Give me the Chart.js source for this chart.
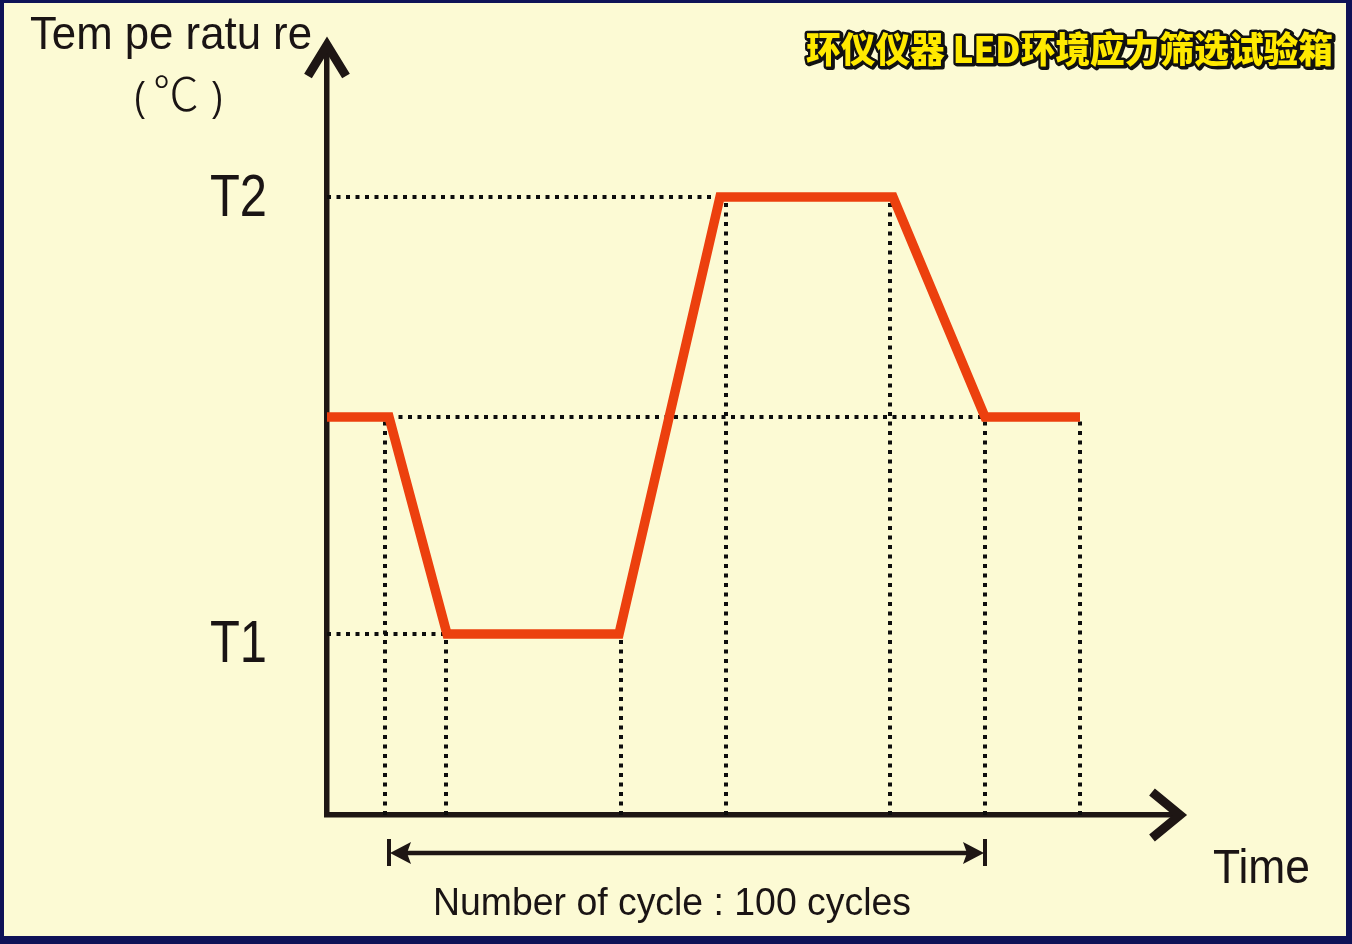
<!DOCTYPE html>
<html>
<head>
<meta charset="utf-8">
<title>LED环境应力筛选试验箱</title>
<script src="https://cdn.jsdelivr.net/npm/chart.js@4.4.1/dist/chart.umd.min.js"></script>
<style>
  html, body { margin: 0; padding: 0; background: #0e1257; }
  canvas { display: block; }
</style>
</head>
<body>
<canvas id="myChart" width="1352" height="944"></canvas>
<script>
'use strict';

// Temperature profile (time units, temperature units)
const timePoints = [0, 6.2, 12, 29.2, 39.3, 56.6, 65.8, 75.3];
const tempPoints = [39.8, 39.8, 18.1, 18.1, 61.8, 61.8, 39.8, 39.8];

// dotted drop lines down to the time axis
const dropTimes = [5.8, 11.9, 29.4, 39.9, 56.3, 65.8, 75.3];
const dropTemps = [39.8, 18.1, 18.1, 61.8, 61.8, 39.8, 39.8];

// dotted level lines
const levelTemps = [61.8, 39.8, 18.1];
const levelStarts = [0, 6.2, 0];
const levelEnds = [39.5, 75.3, 12];

// labels
const levelNames = ['T2', 'T1'];
const levelNameTemps = [61.8, 18.1];
const cycleSpan = [6.2, 65.8];
const cycleText = 'Number of cycle : 100 cycles';
const titleText = '环仪仪器 LED环境应力筛选试验箱';

const inkColor = '#1e1614';
const redColor = '#ec400e';
const paperColor = '#fcfad4';

const ctx = document.getElementById('myChart');

// squeeze text to a given width (the picture uses a narrow face)
function fitText(c, text, x, y, width, font){
  c.font = font;
  const w = c.measureText(text).width;
  c.save();
  c.translate(x, y);
  c.scale(width / w, 1);
  c.fillText(text, 0, 0);
  c.restore();
}

let datasets = [{
  data: timePoints.map((t, i) => ({x: t, y: tempPoints[i]})),
  borderColor: redColor,
  borderWidth: 9.5,
  borderCapStyle: 'butt',
  borderJoinStyle: 'miter',
  pointRadius: 0,
  clip: false
}];

for(let i = 0; i < dropTimes.length; i++){
  datasets.push({
    data: [{x: dropTimes[i], y: 0}, {x: dropTimes[i], y: dropTemps[i]}],
    borderColor: '#0d0d0d',
    borderWidth: 4,
    borderDash: [4, 5.5],
    pointRadius: 0,
    clip: false
  });
}
for(let i = 0; i < levelTemps.length; i++){
  datasets.push({
    data: [{x: levelStarts[i], y: levelTemps[i]}, {x: levelEnds[i], y: levelTemps[i]}],
    borderColor: '#0d0d0d',
    borderWidth: 4,
    borderDash: [4, 5.5],
    pointRadius: 0,
    clip: false
  });
}

const paperPlugin = {
  id: 'paper',
  beforeDraw(chart){
    const c = chart.ctx;
    c.save();
    c.fillStyle = '#0e1257';
    c.fillRect(0, 0, chart.width, chart.height);
    c.fillStyle = paperColor;
    c.fillRect(4, 3, chart.width - 10, chart.height - 11);
    c.restore();
  }
};

const labelPlugin = {
  id: 'labels',
  afterDraw(chart){
    const c = chart.ctx;
    const xs = chart.scales.x;
    const ys = chart.scales.y;
    const ox = xs.getPixelForValue(0);
    const oy = ys.getPixelForValue(0);
    const top = ys.getPixelForValue(ys.max);
    const right = xs.getPixelForValue(xs.max);

    c.save();
    c.strokeStyle = inkColor;
    c.lineWidth = 9;
    c.lineJoin = 'miter';
    c.lineCap = 'butt';
    // y arrow head
    c.beginPath();
    c.moveTo(ox - 19, top + 31);
    c.lineTo(ox, top);
    c.lineTo(ox + 19, top + 31);
    c.stroke();
    // x arrow head
    c.beginPath();
    c.moveTo(right - 28, oy - 23);
    c.lineTo(right, oy);
    c.lineTo(right - 28, oy + 23);
    c.stroke();

    // cycle span arrow
    const x1 = xs.getPixelForValue(cycleSpan[0]);
    const x2 = xs.getPixelForValue(cycleSpan[1]);
    const ay = 853;
    c.lineWidth = 4.5;
    c.beginPath();
    c.moveTo(x1 + 10, ay);
    c.lineTo(x2 - 10, ay);
    c.stroke();
    c.lineWidth = 4;
    c.beginPath();
    c.moveTo(x1, ay - 14);
    c.lineTo(x1, ay + 13);
    c.moveTo(x2, ay - 14);
    c.lineTo(x2, ay + 13);
    c.stroke();
    c.fillStyle = inkColor;
    c.beginPath();
    c.moveTo(x1 + 1, ay);
    c.lineTo(x1 + 22, ay - 11);
    c.lineTo(x1 + 18, ay);
    c.lineTo(x1 + 22, ay + 11);
    c.closePath();
    c.fill();
    c.beginPath();
    c.moveTo(x2 - 1, ay);
    c.lineTo(x2 - 22, ay - 11);
    c.lineTo(x2 - 18, ay);
    c.lineTo(x2 - 22, ay + 11);
    c.closePath();
    c.fill();

    // texts
    c.fillStyle = '#1a1414';
    c.textBaseline = 'alphabetic';
    c.textAlign = 'left';
    const face = '"Liberation Sans Narrow", "Liberation Sans", Arial, sans-serif';
    fitText(c, 'Tem pe ratu re', 30, 49, 282, '46px ' + face);
    fitText(c, '(', 134, 111, 11, '40px ' + face);
    fitText(c, ')', 212, 111, 11, '40px ' + face);
    c.font = '200 46px "Noto Sans CJK SC", sans-serif';
    c.textAlign = 'center';
    c.fillText('℃', 176, 110);
    c.textAlign = 'left';

    const nameOffsets = [19, 28];
    for(let i = 0; i < levelNames.length; i++){
      const py = ys.getPixelForValue(levelNameTemps[i]);
      fitText(c, levelNames[i], 210, py + nameOffsets[i], 57, '60px ' + face);
    }
    fitText(c, 'Time', 1213, 883, 97, '49px ' + face);
    fitText(c, cycleText, 433, 915, 478, '38px ' + face);

    // title with outline
    c.font = '900 36px "Noto Sans CJK SC", sans-serif';
    c.textBaseline = 'middle';
    const tw = c.measureText(titleText).width;
    c.save();
    c.translate(806, 49);
    c.scale(527 / tw, 1);
    c.lineJoin = 'round';
    c.strokeStyle = '#111111';
    c.lineWidth = 5;
    c.strokeText(titleText, 1.5, 1.5);
    c.strokeText(titleText, 0, 0);
    c.fillStyle = '#ffe900';
    c.fillText(titleText, 0, 0);
    c.restore();

    c.restore();
  }
};

new Chart(ctx, {
  type: 'line',
  data: { datasets: datasets },
  options: {
    responsive: false,
    animation: false,
    layout: { padding: { left: 327, top: 45, right: 172, bottom: 129 } },
    plugins: { legend: { display: false }, tooltip: { enabled: false } },
    scales: {
      x: {
        type: 'linear',
        min: 0,
        max: 85.3,
        grid: { display: false, drawTicks: false },
        ticks: { display: false },
        border: { display: true, width: 5.5, color: inkColor }
      },
      y: {
        type: 'linear',
        min: 0,
        max: 77,
        grid: { display: false, drawTicks: false },
        ticks: { display: false },
        border: { display: true, width: 5.5, color: inkColor }
      }
    }
  },
  plugins: [paperPlugin, labelPlugin]
});
</script>
</body>
</html>
